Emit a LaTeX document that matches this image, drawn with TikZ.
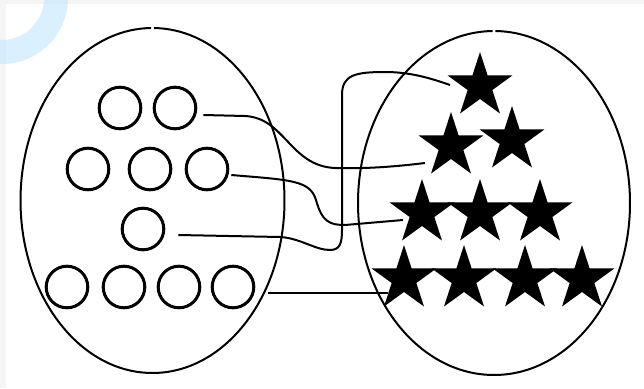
\documentclass[tikz,border=0pt]{standalone}
\usetikzlibrary{shapes.geometric}
\begin{document}
\begin{tikzpicture}[x=1pt,y=-1pt,
  dot/.style={circle,draw=black,line width=3pt,minimum size=41.6pt,inner sep=0pt},
  starnode/.style={star,star points=5,star point ratio=2.618,fill=black,minimum size=68pt,inner sep=0pt},
  wire/.style={draw=black,line width=2pt},
  blob/.style={draw=black,line width=2pt}]
\useasboundingbox (0,0) rectangle (644,388);
\fill[black!4] (0,0) rectangle (644,388);
\fill[white] (6,4) rectangle (644,388);
\fill[blue!40!cyan!25!white,opacity=0.55,even odd rule] (2,-2) circle (66) (2,-2) circle (42);
% ellipses with tiny gap at top
\draw[blob] (152.5,200.5) ++(270.6:132 and 172.5) arc[start angle=270.6,end angle=629.4,x radius=132,y radius=172.5];
\draw[blob] (494,203) ++(270.6:136 and 172) arc[start angle=270.6,end angle=629.4,x radius=136,y radius=172];
% circles
\node[dot] (c11) at (120,108) {};
\node[dot] (c12) at (175,108) {};
\node[dot] (c21) at (88,169) {};
\node[dot] (c22) at (150,169) {};
\node[dot] (c23) at (207,169) {};
\node[dot] (c31) at (143,229) {};
\node[dot] (c41) at (67,287) {};
\node[dot] (c42) at (124,287) {};
\node[dot] (c43) at (179,287) {};
\node[dot] (c44) at (233,287) {};
% stars
\node[starnode] (s1) at (480,86) {};
\node[starnode] (s21) at (451,146) {};
\node[starnode] (s22) at (512,140) {};
\node[starnode] (s31) at (422,213) {};
\node[starnode] (s32) at (480,213) {};
\node[starnode] (s33) at (540,213) {};
\node[starnode] (s41) at (404,279) {};
\node[starnode] (s42) at (464,279) {};
\node[starnode] (s43) at (525,279) {};
\node[starnode] (s44) at (582,279) {};
% connector ends
\coordinate (a1) at ([shift={(6,7)}]c12.east);
\coordinate (b1) at ([shift={(-26,17)}]s21.center);
\coordinate (a2) at ([shift={(2,6)}]c23.east);
\coordinate (b2) at ([shift={(-19,7)}]s31.center);
\coordinate (a3) at ([shift={(13,6)}]c31.east);
\coordinate (b3) at ([shift={(-30,-1)}]s1.center);
\coordinate (a4) at ([shift={(13,6)}]c44.east);
\coordinate (b4) at ([shift={(-16,14)}]s41.center);
% connectors
\draw[wire] (a1) -- (245,116) .. controls (285,118) and (290,166) .. (335,168) .. controls (370,169) and (400,166) .. (b1);
\draw[wire] (a2) .. controls (290,180) and (310,180) .. (316,200) .. controls (322,222) and (330,225) .. (345,225) -- (b2);
\draw[wire] (a3) -- (280,237) .. controls (300,238) and (315,250) .. (330,250) .. controls (340,250) and (342,243) .. (342,230) -- (342,95) .. controls (342,75) and (355,72) .. (385,72) .. controls (410,72) and (430,78) .. (b3);
\draw[wire] (a4) -- (b4);
\end{tikzpicture}
\end{document}
